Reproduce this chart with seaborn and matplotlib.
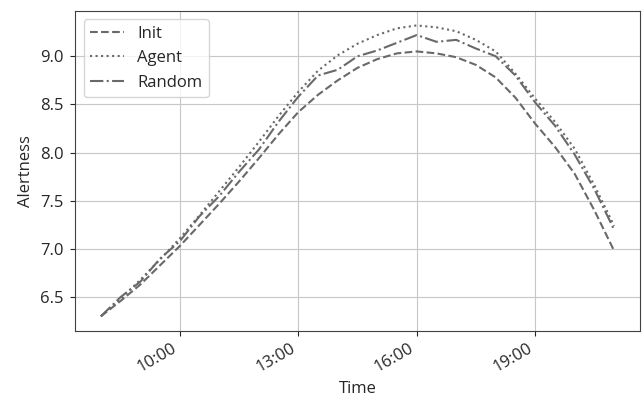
import pandas as pd
import seaborn as sns
import matplotlib.pyplot as plt
import matplotlib.dates as mdates

sns.set_style('ticks', {'axes.grid': True, 'grid.color': '.78',
                        'axes.edgecolor': '.25', 'axes.linewidth': 1.3})
plt.rcParams['font.family'] = ['Open Sans', 'DejaVu Sans']
plt.rcParams['font.size'] = 12

# half-hourly samples, 08:00 - 21:00
times = ['08:00', '08:30', '09:00', '09:30', '10:00', '10:30', '11:00', '11:30',
         '12:00', '12:30', '13:00', '13:30', '14:00', '14:30', '15:00', '15:30',
         '16:00', '16:30', '17:00', '17:30', '18:00', '18:30', '19:00', '19:30',
         '20:00', '20:30', '21:00']

init = [6.30, 6.46, 6.63, 6.83, 7.03, 7.25, 7.47, 7.70, 7.94, 8.19, 8.42,
        8.60, 8.75, 8.88, 8.97, 9.03, 9.05, 9.03, 8.99, 8.91, 8.78, 8.57,
        8.30, 8.06, 7.78, 7.40, 6.98]

agent = [6.30, 6.48, 6.68, 6.89, 7.11, 7.35, 7.60, 7.85, 8.11, 8.38, 8.63,
         8.85, 9.01, 9.13, 9.22, 9.29, 9.32, 9.30, 9.26, 9.17, 9.05, 8.82,
         8.56, 8.32, 8.04, 7.66, 7.24]

random_ = [6.30, 6.50, 6.66, 6.90, 7.08, 7.34, 7.55, 7.80, 8.03, 8.32, 8.58,
           8.80, 8.86, 9.00, 9.06, 9.14, 9.22, 9.15, 9.17, 9.08, 9.00, 8.80,
           8.52, 8.28, 7.98, 7.62, 7.20]

t = pd.to_datetime(['2020-01-01 ' + s for s in times])

fig, ax = plt.subplots(figsize=(6.43, 4.03), dpi=100)

sns.lineplot(x=t, y=init, ax=ax, color='dimgray', linestyle='--', label='Init')
sns.lineplot(x=t, y=agent, ax=ax, color='dimgray', linestyle=':', label='Agent')
sns.lineplot(x=t, y=random_, ax=ax, color='dimgray', linestyle='-.', label='Random')

ax.xaxis.set_major_locator(mdates.HourLocator(byhour=[10, 13, 16, 19]))
ax.xaxis.set_major_formatter(mdates.DateFormatter('%H:%M'))
ax.set_yticks([6.5, 7.0, 7.5, 8.0, 8.5, 9.0])
ax.tick_params(axis='y', pad=5)
ax.set_xlabel('Time')
ax.set_ylabel('Alertness')
ax.legend(loc='upper left')

fig.autofmt_xdate()
fig.subplots_adjust(left=0.117, right=0.995, top=0.973, bottom=0.179)
fig.savefig('out.png')
